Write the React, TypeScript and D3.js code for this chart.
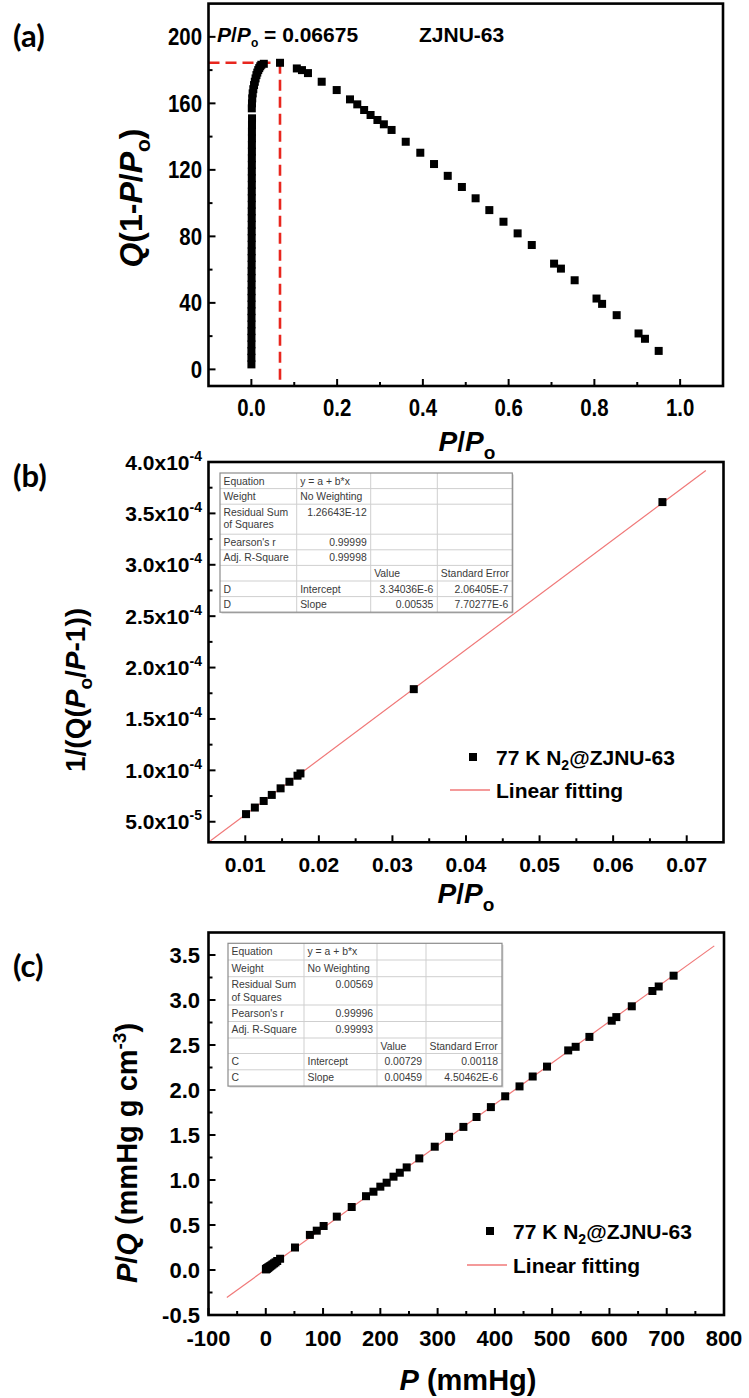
import React from 'react';
import * as d3 from 'd3';

// ---------------- Panel (a) data ----------------
const aLowX = [0.0001,0.0001,0.0001,0.0002,0.0002,0.0002,0.0003,0.0003,0.0003,0.0004,0.0004,0.0004,0.0005,0.0005,0.0005,0.0006,0.0006,0.0006,0.0007,0.0007,0.0007,0.0008,0.0008,0.0008,0.0009,0.0009,0.0009,0.0010,0.0010,0.0010,0.0011,0.0011,0.0012,0.0012,0.0013,0.0013,0.0014,0.0015];
const aLowY = [3,7,11,15,19,23,27,31,35,39,43,47,51,55,59,63,67,71,75,79,83,87,91,95,99,103,107,111,115,119,123,127,131,135,139,143,147,151];
const aMidX = [0.0010,0.0014,0.0020,0.0030,0.0045,0.0062,0.0080,0.0098,0.0118,0.0138,0.0160,0.0183,0.0207,0.0232,0.0290,0.0668];
const aMidY = [157,160,163,166,168.5,171,173,175,177,178.5,180,181.2,182.3,183.2,183.8,184.4];
const aHighX = [0.106,0.118,0.132,0.164,0.199,0.230,0.247,0.263,0.278,0.294,0.309,0.327,0.360,0.394,0.426,0.458,0.491,0.523,0.555,0.588,0.621,0.654,0.706,0.722,0.754,0.805,0.818,0.852,0.903,0.918,0.950];
const aHighY = [181,180,178.2,173,168,162.4,159.4,156,153,150,147.4,144,136.9,130.3,123.5,116.4,109.7,102.9,95.8,88.8,81.8,74.8,63.6,60.6,53.6,42.6,39.4,32.6,21.6,18.4,11.1];
const aMarkX = 0.06675;
const aMarkY = 184.4;
const aXTicks = [0, 0.2, 0.4, 0.6, 0.8, 1.0];
const aXLabels = ['0.0', '0.2', '0.4', '0.6', '0.8', '1.0'];
const aXMinor = [0.1, 0.3, 0.5, 0.7, 0.9];
const aYTicks = [0, 40, 80, 120, 160, 200];
const aYLabels = ['0', '40', '80', '120', '160', '200'];
const aYMinor = [20, 60, 100, 140, 180];

// ---------------- Panel (b) data ----------------
const bX = [0.0101, 0.0113, 0.0125, 0.0136, 0.0148, 0.0160, 0.0171, 0.0175, 0.0329, 0.0667];
const bY = [5.74e-5, 6.38e-5, 7.02e-5, 7.61e-5, 8.25e-5, 8.89e-5, 9.48e-5, 9.70e-5, 1.79e-4, 3.61e-4];
const bIntercept = 3.34036e-6;
const bSlope = 0.00535;
const bFitRange = [0.005, 0.0726];
const bXTicks = [0.01, 0.02, 0.03, 0.04, 0.05, 0.06, 0.07];
const bXLabels = ['0.01', '0.02', '0.03', '0.04', '0.05', '0.06', '0.07'];
const bXMinor = [0.015, 0.025, 0.035, 0.045, 0.055, 0.065];
const bYTicks = [5e-5, 1e-4, 1.5e-4, 2e-4, 2.5e-4, 3e-4, 3.5e-4, 4e-4];
const bYMant = ['5.0', '1.0', '1.5', '2.0', '2.5', '3.0', '3.5', '4.0'];
const bYExp = ['-5', '-4', '-4', '-4', '-4', '-4', '-4', '-4'];
const bYMinor = [7.5e-5, 1.25e-4, 1.75e-4, 2.25e-4, 2.75e-4, 3.25e-4, 3.75e-4];
const bTable = [
  ['Equation', 'y = a + b*x', '', ''],
  ['Weight', 'No Weighting', '', ''],
  ['Residual Sum|of Squares', '1.26643E-12', '', ''],
  ["Pearson's r", '0.99999', '', ''],
  ['Adj. R-Square', '0.99998', '', ''],
  ['', '', 'Value', 'Standard Error'],
  ['D', 'Intercept', '3.34036E-6', '2.06405E-7'],
  ['D', 'Slope', '0.00535', '7.70277E-6'],
];

// ---------------- Panel (c) data ----------------
const cX = [0.2,0.5,1,1.6,2.3,3,4,5,6.5,8,10,12,14.5,17,20,25,51,77,89,101,124,150,175,188,200,211,223,234,246,268,295,320,345,368,393,418,443,466,491,528,541,565,604,612,639,675,686,712];
const cY = [0.008,0.009,0.012,0.015,0.018,0.021,0.026,0.03,0.037,0.044,0.053,0.063,0.074,0.085,0.1,0.125,0.25,0.39,0.437,0.489,0.593,0.70,0.82,0.87,0.926,0.97,1.037,1.081,1.14,1.24,1.37,1.48,1.59,1.70,1.81,1.93,2.04,2.15,2.26,2.44,2.48,2.59,2.77,2.81,2.93,3.10,3.15,3.27];
const cIntercept = 0.00729;
const cSlope = 0.00459;
const cFitRange = [-68, 783];
const cXTicks = [-100, 0, 100, 200, 300, 400, 500, 600, 700, 800];
const cXLabels = ['-100', '0', '100', '200', '300', '400', '500', '600', '700', '800'];
const cXMinor = [-50, 50, 150, 250, 350, 450, 550, 650, 750];
const cYTicks = [-0.5, 0, 0.5, 1, 1.5, 2, 2.5, 3, 3.5];
const cYLabels = ['-0.5', '0.0', '0.5', '1.0', '1.5', '2.0', '2.5', '3.0', '3.5'];
const cYMinor = [-0.25, 0.25, 0.75, 1.25, 1.75, 2.25, 2.75, 3.25];
const cTable = [
  ['Equation', 'y = a + b*x', '', ''],
  ['Weight', 'No Weighting', '', ''],
  ['Residual Sum|of Squares', '0.00569', '', ''],
  ["Pearson's r", '0.99996', '', ''],
  ['Adj. R-Square', '0.99993', '', ''],
  ['', '', 'Value', 'Standard Error'],
  ['C', 'Intercept', '0.00729', '0.00118'],
  ['C', 'Slope', '0.00459', '4.50462E-6'],
];

const legendSeries = '77 K N';
const legendSeriesTail = '@ZJNU-63';
const legendFit = 'Linear fitting';

const SANS = "'Liberation Sans', Arial, sans-serif";
const PANEL = "Lato, 'Open Sans', sans-serif";
const FIT = '#f07878';
const NARROW_K = 0.85;

type Lin = d3.ScaleLinear<number, number>;

function Frame({ x, y, xT, xM, yT, yM }: { x: Lin; y: Lin; xT: number[]; xM: number[]; yT: number[]; yM: number[] }) {
  const [x0, x1] = x.range();
  const [y0, y1] = y.range();
  return (
    <g stroke="#000" strokeWidth={2}>
      {xT.map((t, i) => <line key={'xt' + i} x1={x(t)} x2={x(t)} y1={y0} y2={y0 - 7} />)}
      {xM.map((t, i) => <line key={'xm' + i} x1={x(t)} x2={x(t)} y1={y0} y2={y0 - 4} />)}
      {yT.map((t, i) => <line key={'yt' + i} x1={x0} x2={x0 + 7} y1={y(t)} y2={y(t)} />)}
      {yM.map((t, i) => <line key={'ym' + i} x1={x0} x2={x0 + 4} y1={y(t)} y2={y(t)} />)}
      <rect x={x0} y={y1} width={x1 - x0} height={y0 - y1} fill="none" strokeWidth={2.6} />
    </g>
  );
}

function Squares({ xs, ys, x, y, s = 8 }: { xs: number[]; ys: number[]; x: Lin; y: Lin; s?: number }) {
  return (
    <g fill="#000">
      {xs.map((v, i) => <rect key={i} x={x(v) - s / 2} y={y(ys[i]) - s / 2} width={s} height={s} />)}
    </g>
  );
}

// condensed bold text (Arial Narrow look) by horizontal scaling
function NText({ x, y, anchor = 'start', size, children }: { x: number; y: number; anchor?: string; size: number; children: React.ReactNode }) {
  return (
    <text transform={`translate(${x},${y}) scale(${NARROW_K},1)`} textAnchor={anchor} fontFamily={SANS} fontWeight="bold" fontSize={size}>
      {children}
    </text>
  );
}

function isNum(s: string) {
  return /^[0-9.\-E]+$/.test(s);
}

function FitTable({ rows, left, top, cols, heights }: { rows: string[][]; left: number; top: number; cols: number[]; heights: number[] }) {
  const edges = [left, ...cols.map((_, i) => left + d3.sum(cols.slice(0, i + 1)))];
  const tops: number[] = [];
  let acc = top;
  heights.forEach((h) => { tops.push(acc); acc += h; });
  const bottom = acc;
  const right = edges[edges.length - 1];
  return (
    <g fontFamily={SANS} fontSize={10.4} fill="#3a3a3a">
      <rect x={left + 1.5} y={top + 1.5} width={right - left} height={bottom - top} fill="#d8d8d8" />
      <rect x={left} y={top} width={right - left} height={bottom - top} fill="#fff" />
      {tops.slice(1).map((t, i) => <line key={'h' + i} x1={left} x2={right} y1={t} y2={t} stroke="#cfcfcf" strokeWidth={1} />)}
      {edges.slice(1, -1).map((e, i) => <line key={'v' + i} x1={e} x2={e} y1={top} y2={bottom} stroke="#cfcfcf" strokeWidth={1} />)}
      <rect x={left} y={top} width={right - left} height={bottom - top} fill="none" stroke="#8c8c8c" strokeWidth={1.2} />
      {rows.map((r, ri) =>
        r.map((cell, ci) => {
          if (!cell) return null;
          const parts = cell.split('|');
          const rightAl = isNum(cell);
          const xx = rightAl ? edges[ci + 1] - 4 : edges[ci] + 3.5;
          return (
            <text key={ri + '-' + ci} x={xx} y={tops[ri] + 11.5} textAnchor={rightAl ? 'end' : 'start'}>
              {parts.map((p, k) => <tspan key={k} x={xx} dy={k === 0 ? 0 : 12.3}>{p}</tspan>)}
            </text>
          );
        })
      )}
    </g>
  );
}

function Legend({ x, y, gap }: { x: number; y: number; gap: number }) {
  return (
    <g fontFamily={SANS} fontWeight="bold" fontSize={21}>
      <rect x={x - 27} y={y - 4} width={8} height={8} fill="#000" />
      <text x={x} y={y + 7.5}>
        {legendSeries}
        <tspan fontSize={14} dy={5}>2</tspan>
        <tspan dy={-5}>{legendSeriesTail}</tspan>
      </text>
      <line x1={x - 46} x2={x - 6} y1={y + gap} y2={y + gap} stroke={FIT} strokeWidth={1.3} />
      <text x={x} y={y + gap + 7.5}>{legendFit}</text>
    </g>
  );
}

export default function App() {
  const ax = d3.scaleLinear().domain([-0.1, 1.1]).range([208.5, 723]);
  const ay = d3.scaleLinear().domain([-10, 220]).range([386, 3.6]);
  const bx = d3.scaleLinear().domain([0.005, 0.075]).range([208.5, 723.5]);
  const by = d3.scaleLinear().domain([3e-5, 4e-4]).range([842.3, 462]);
  const cx = d3.scaleLinear().domain([-100, 800]).range([208.5, 724]);
  const cy = d3.scaleLinear().domain([-0.5, 3.75]).range([1315, 932.5]);

  const line = d3.line<[number, number]>();
  const bFit = line(bFitRange.map((v) => [bx(v), by(bIntercept + bSlope * v)] as [number, number])) || '';
  const cFit = line(cFitRange.map((v) => [cx(v), cy(cIntercept + cSlope * v)] as [number, number])) || '';

  return (
    <svg width={749} height={1398} style={{ position: 'absolute', left: 0, top: 0, background: '#fff' }}>
      <rect width={749} height={1398} fill="#fff" />

      {/* ---------------- Panel (a) ---------------- */}
      <text x={13} y={47} fontFamily={PANEL} fontWeight="bold" fontSize={31}>(a)</text>
      <g stroke="#e8261e" strokeWidth={2.6} strokeDasharray="11 6" fill="none">
        <line x1={ax(-0.1)} x2={ax(aMarkX)} y1={ay(aMarkY)} y2={ay(aMarkY)} />
        <line x1={ax(aMarkX)} x2={ax(aMarkX)} y1={ay(aMarkY)} y2={ay(-10)} />
      </g>
      <Squares xs={aLowX} ys={aLowY} x={ax} y={ay} />
      <Squares xs={aMidX} ys={aMidY} x={ax} y={ay} />
      <Squares xs={aHighX} ys={aHighY} x={ax} y={ay} />
      <Frame x={ax} y={ay} xT={aXTicks} xM={aXMinor} yT={aYTicks} yM={aYMinor} />
      {aXTicks.map((t, i) => <NText key={'ax' + i} x={ax(t)} y={416} anchor="middle" size={24}>{aXLabels[i]}</NText>)}
      {aYTicks.map((t, i) => <NText key={'ay' + i} x={202} y={ay(t) + 8.5} anchor="end" size={24}>{aYLabels[i]}</NText>)}
      <g fontFamily={SANS} fontWeight="bold" fontSize={21}>
        <text x={217} y={42}>
          <tspan fontStyle="italic">P</tspan>/<tspan fontStyle="italic">P</tspan>
          <tspan fontSize={12} dy={5}>o</tspan>
          <tspan dy={-5}> = 0.06675</tspan>
        </text>
        <text x={419} y={42}>ZJNU-63</text>
      </g>
      <g fontFamily={SANS} fontWeight="bold" fontSize={28}>
        <text x={467} y={451} textAnchor="middle">
          <tspan fontStyle="italic">P</tspan>/<tspan fontStyle="italic">P</tspan>
          <tspan fontSize={19} dy={8}>o</tspan>
        </text>
        <text transform="translate(142,198) rotate(-90)" textAnchor="middle" fontSize={32}>
          <tspan fontStyle="italic">Q</tspan>(1-<tspan fontStyle="italic">P</tspan>/<tspan fontStyle="italic">P</tspan>
          <tspan fontSize={21} dy={8}>o</tspan>
          <tspan dy={-8}>)</tspan>
        </text>
      </g>

      {/* ---------------- Panel (b) ---------------- */}
      <text x={13} y={487} fontFamily={PANEL} fontWeight="bold" fontSize={31}>(b)</text>
      <path d={bFit} stroke={FIT} strokeWidth={1.2} fill="none" />
      <Squares xs={bX} ys={bY} x={bx} y={by} />
      <Frame x={bx} y={by} xT={bXTicks} xM={bXMinor} yT={bYTicks} yM={bYMinor} />
      <FitTable rows={bTable} left={220} top={473} cols={[76.7, 74, 66.6, 75]} heights={[15.6, 15.6, 30, 15.6, 15.6, 15.6, 15.6, 15.6]} />
      <Legend x={496} y={757} gap={33} />
      <g fontFamily={SANS} fontWeight="bold" fontSize={21}>
        {bXTicks.map((t, i) => <text key={i} x={bx(t)} y={872} textAnchor="middle">{bXLabels[i]}</text>)}
        {bYTicks.map((t, i) => (
          <text key={i} x={202} y={by(t) + 7.5} textAnchor="end">
            {bYMant[i]}x10<tspan fontSize={14} dy={-9}>{bYExp[i]}</tspan>
          </text>
        ))}
      </g>
      <g fontFamily={SANS} fontWeight="bold" fontSize={28}>
        <text x={466} y={903} textAnchor="middle">
          <tspan fontStyle="italic">P</tspan>/<tspan fontStyle="italic">P</tspan>
          <tspan fontSize={19} dy={8}>o</tspan>
        </text>
        <text transform="translate(85,690) rotate(-90)" textAnchor="middle" fontSize={28}>
          1/(Q(<tspan fontStyle="italic">P</tspan>
          <tspan fontSize={19} dy={7}>o</tspan>
          <tspan dy={-7}>/</tspan><tspan fontStyle="italic">P</tspan>-1))
        </text>
      </g>

      {/* ---------------- Panel (c) ---------------- */}
      <text x={13} y={977} fontFamily={PANEL} fontWeight="bold" fontSize={31}>(c)</text>
      <path d={cFit} stroke={FIT} strokeWidth={1.2} fill="none" />
      <Squares xs={cX} ys={cY} x={cx} y={cy} />
      <Frame x={cx} y={cy} xT={cXTicks} xM={cXMinor} yT={cYTicks} yM={cYMinor} />
      <FitTable rows={cTable} left={228} top={943.3} cols={[76, 73, 49, 76]} heights={[16.7, 16.7, 28.3, 16.5, 16.5, 15.5, 16.3, 16.3]} />
      <Legend x={513} y={1231} gap={34} />
      <g fontFamily={SANS} fontWeight="bold" fontSize={22}>
        {cXTicks.map((t, i) => <text key={i} x={cx(t)} y={1346} textAnchor="middle">{cXLabels[i]}</text>)}
        {cYTicks.map((t, i) => <text key={i} x={200} y={cy(t) + 8} textAnchor="end">{cYLabels[i]}</text>)}
      </g>
      <g fontFamily={SANS} fontWeight="bold" fontSize={29}>
        <text x={468} y={1390} textAnchor="middle">
          <tspan fontStyle="italic">P</tspan> (mmHg)
        </text>
        <text transform="translate(137,1153) rotate(-90)" textAnchor="middle">
          <tspan fontStyle="italic">P</tspan>/<tspan fontStyle="italic">Q</tspan> (mmHg g cm<tspan fontSize={19} dy={-11}>-3</tspan>
          <tspan dy={11}>)</tspan>
        </text>
      </g>
    </svg>
  );
}
